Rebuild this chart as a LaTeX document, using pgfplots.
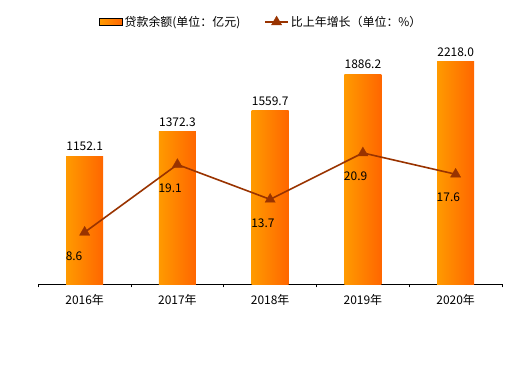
\documentclass[border=0pt]{standalone}
\usepackage{fontspec}
\setmainfont{Noto Sans CJK SC}
\usepackage{pgfplots}
\pgfplotsset{compat=1.18}
\definecolor{barL}{HTML}{FF9A00}
\definecolor{barR}{HTML}{FF6600}
\definecolor{lineC}{HTML}{993300}
\pgfplotsset{
  linelegend/.style={legend image code/.code={\draw[mark repeat=2,mark phase=2,##1] plot coordinates {(0bp,0bp) (11.5bp,0bp) (23bp,0bp)};}},
  barlegend/.style={legend image code/.code={\fill[left color=barL,right color=barR] (0bp,-3.5bp) rectangle (23bp,3.5bp);}},
  onebar/.style={draw=none, left color=barL, right color=barR, bar shift=0pt},
}
\begin{document}
\fontsize{12pt}{14pt}\selectfont
\begin{tikzpicture}
\useasboundingbox (0,0) rectangle (527bp,367bp);
\begin{axis}[
  at={(38.3bp,82.5bp)}, anchor=south west, scale only axis,
  width=463.7bp, height=222.5bp,
  xmin=-0.5, xmax=4.5, ymin=0, ymax=2000,
  axis x line*=bottom, axis y line=none,
  x axis line style={-, black, line width=0.9bp},
  xtick={0,1,2,3,4}, xticklabels={2016年,2017年,2018年,2019年,2020年},
  major tick length=0pt,
  minor xtick={-0.5,0.5,1.5,2.5,3.5,4.5}, minor tick length=3bp,
  tick align=inside, minor tick style={black, line width=0.8bp},
  xticklabel style={anchor=center, yshift=-15.5bp},
  ybar, bar width=0.4,
  restrict y to domain*=0:2000,
  nodes near coords, point meta=rawy,
  nodes near coords style={anchor=center, yshift=10bp, black},
  /pgf/number format/.cd, fixed, fixed zerofill, precision=1, 1000 sep={}, assume math mode=true,
]
\addplot[onebar] coordinates {(0,1152.1)};
\addplot[onebar] coordinates {(1,1372.3)};
\addplot[onebar] coordinates {(2,1559.7)};
\addplot[onebar] coordinates {(3,1886.2)};
\addplot[onebar] coordinates {(4,2218.0)};
\end{axis}
\begin{axis}[
  at={(38.3bp,82.5bp)}, anchor=south west, scale only axis,
  width=463.7bp, height=222.5bp,
  xmin=-0.5, xmax=4.5, ymin=0.5, ymax=35,
  hide axis, clip=false,
  legend style={at={(0.481,1.18)}, anchor=center, draw=none, fill=none,
    legend columns=2, /tikz/every even column/.append style={column sep=22bp}, inner sep=0pt},
  legend cell align=left,
  nodes near coords,
  nodes near coords style={anchor=west, xshift=-19bp, yshift=-23.5bp, black, inner sep=0pt},
  /pgf/number format/.cd, fixed, fixed zerofill, precision=1, assume math mode=true,
]
\addlegendimage{barlegend}
\addlegendentry{贷款余额(单位：亿元)}
\addplot[lineC, line width=1.6bp, mark=triangle*, mark size=6bp,
  mark options={solid, fill=lineC, draw=lineC, line width=0.2bp}, linelegend]
  coordinates {(0,8.6) (1,19.1) (2,13.7) (3,20.9) (4,17.6)};
\addlegendentry{比上年增长（单位：\%）}
\end{axis}
\end{tikzpicture}
\end{document}
